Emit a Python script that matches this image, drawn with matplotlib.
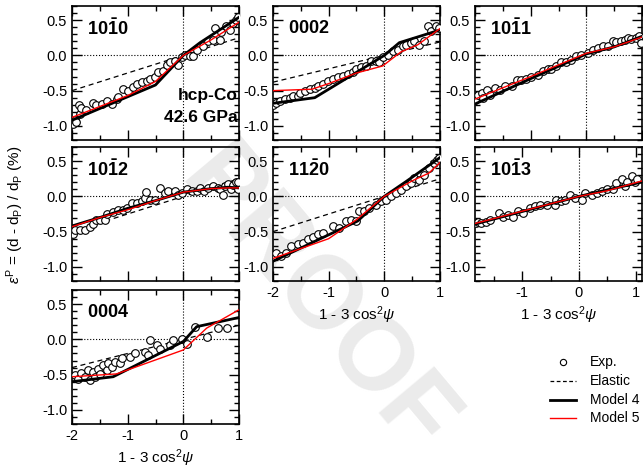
#!/usr/bin/env python3
# -*- coding: utf-8 -*-

import numpy as np
import matplotlib
matplotlib.use('Agg')
import matplotlib.pyplot as plt
from matplotlib.ticker import MultipleLocator, FormatStrFormatter

plt.rcParams['font.family'] = ['Liberation Sans', 'DejaVu Sans']
plt.rcParams['mathtext.fontset'] = 'custom'
plt.rcParams['mathtext.rm'] = 'Liberation Sans'
plt.rcParams['mathtext.it'] = 'Liberation Sans:italic'
plt.rcParams['mathtext.bf'] = 'Liberation Sans:bold'
plt.rcParams['axes.unicode_minus'] = False

# ---- data ----
# 10-10
exp1_x = [-1.98, -1.95, -1.92, -1.87, -1.86, -1.83, -1.74, -1.62, -1.56, -1.47, -1.38, -1.29, -1.2, -1.17,
          -1.08, -0.99, -0.9, -0.84, -0.75, -0.66, -0.6, -0.51, -0.45, -0.36, -0.3, -0.24, -0.15, -0.09,
          -0.03, 0.03, 0.12, 0.18, 0.24, 0.36, 0.45, 0.53, 0.56, 0.65, 0.68, 0.77, 0.83, 0.89, 0.95, 0.98]
exp1_y = [-0.97, -0.92, -0.94, -0.7, -0.83, -0.75, -0.78, -0.67, -0.71, -0.69, -0.64, -0.69, -0.62, -0.59,
          -0.48, -0.5, -0.45, -0.41, -0.38, -0.36, -0.34, -0.31, -0.24, -0.22, -0.13, -0.1, -0.08, -0.13,
          -0.03, 0.01, -0.01, -0.01, 0.08, 0.13, 0.2, 0.22, 0.39, 0.22, 0.33, 0.41, 0.36, 0.46, 0.5, 0.55]
el1 = [-0.5, 0.25]
m4_1x = [-2, -0.5, 0, 0.3, 1]
m4_1y = [-0.92, -0.42, 0.0, 0.18, 0.54]
m5_1x = [-2, -1, -0.5, 0, 0.5, 1]
m5_1y = [-0.88, -0.57, -0.37, 0.0, 0.22, 0.47]

# 0002
exp2_x = [-2, -1.94, -1.88, -1.79, -1.7, -1.64, -1.55, -1.52, -1.43, -1.34, -1.25, -1.19, -1.11, -1.02,
          -0.93, -0.84, -0.75, -0.66, -0.57, -0.51, -0.42, -0.33, -0.24, -0.15, -0.09, -0.03, 0.06, 0.15,
          0.24, 0.33, 0.39, 0.48, 0.54, 0.63, 0.72, 0.78, 0.84, 0.93, 0.98]
exp2_y = [-0.7, -0.68, -0.64, -0.62, -0.61, -0.57, -0.57, -0.53, -0.5, -0.48, -0.46, -0.43, -0.41, -0.36,
          -0.34, -0.31, -0.29, -0.27, -0.24, -0.2, -0.17, -0.15, -0.08, -0.08, -0.09, -0.03, 0.01, 0.06,
          0.08, 0.13, 0.15, 0.18, 0.2, 0.15, 0.2, 0.41, 0.34, 0.41, 0.39]
el2 = [-0.38, 0.19]
m4_2x = [-2, -1.25, 0, 0.27, 1]
m4_2y = [-0.68, -0.6, 0.0, 0.18, 0.36]
m5_2x = [-2, -1.3, -1, -0.5, -0.03, 0.3, 0.6, 1]
m5_2y = [-0.5, -0.48, -0.4, -0.25, -0.15, 0.05, 0.15, 0.38]

# 10-11
exp3_x = [-2, -1.94, -1.88, -1.85, -1.79, -1.73, -1.64, -1.55, -1.46, -1.34, -1.25, -1.17, -1.08, -0.99,
          -0.87, -0.78, -0.69, -0.63, -0.54, -0.45, -0.36, -0.27, -0.18, -0.09, 0.03, 0.12, 0.21, 0.3,
          0.39, 0.48, 0.54, 0.63, 0.69, 0.75, 0.8, 0.89, 0.95, 0.98]
exp3_y = [-0.63, -0.56, -0.53, -0.61, -0.49, -0.56, -0.46, -0.49, -0.43, -0.44, -0.35, -0.35, -0.33, -0.3,
          -0.28, -0.22, -0.19, -0.19, -0.15, -0.1, -0.1, -0.06, -0.01, 0.01, 0.04, 0.08, 0.11, 0.13,
          0.13, 0.2, 0.19, 0.2, 0.22, 0.25, 0.23, 0.25, 0.27, 0.18]
el3 = [-0.6, 0.3]
m4_3x = [-2, -1, 0, 0.5, 1]
m4_3y = [-0.69, -0.33, 0.02, 0.12, 0.27]
m5_3x = [-2, -1, 0, 0.5, 1]
m5_3y = [-0.62, -0.3, 0.03, 0.12, 0.26]

# 10-12
exp4_x = [-1.98, -1.95, -1.86, -1.77, -1.68, -1.62, -1.56, -1.5, -1.41, -1.38, -1.26, -1.17, -1.08, -1.02,
          -0.93, -0.84, -0.75, -0.69, -0.67, -0.6, -0.51, -0.42, -0.33, -0.27, -0.15, -0.09, -0.03, 0.06,
          0.15, 0.24, 0.3, 0.38, 0.44, 0.53, 0.62, 0.65, 0.71, 0.74, 0.8, 0.86, 0.89, 0.95, 0.98, 0.99]
exp4_y = [-0.54, -0.47, -0.48, -0.47, -0.43, -0.39, -0.34, -0.34, -0.34, -0.25, -0.22, -0.2, -0.2, -0.17,
          -0.1, -0.1, -0.07, -0.02, 0.06, -0.05, -0.05, 0.12, 0.05, 0.07, 0.07, 0.02, 0.05, 0.1,
          0.07, 0.07, 0.12, 0.07, 0.12, 0.15, 0.12, 0.1, 0.02, 0.15, 0.17, 0.1, 0.16, 0.2, 0.1, 0.21]
el4 = [-0.5, 0.25]
m4_4x = [-2, -1.5, -1, -0.5, 0, 0.5, 0.8, 1]
m4_4y = [-0.42, -0.3, -0.17, -0.06, 0.06, 0.11, 0.13, 0.12]
m5_4x = [-2, -1.5, -1, -0.5, 0, 0.5, 0.8, 1]
m5_4y = [-0.43, -0.3, -0.19, -0.06, 0.06, 0.11, 0.12, 0.12]

# 11-20
exp5_x = [-2, -1.94, -1.85, -1.76, -1.67, -1.55, -1.46, -1.37, -1.28, -1.2, -1.1, -0.93, -0.81, -0.69,
          -0.6, -0.51, -0.45, -0.36, -0.27, -0.15, -0.06, 0.03, 0.12, 0.21, 0.3, 0.39, 0.48, 0.54,
          0.63, 0.72, 0.8, 0.89, 0.95, 0.98]
exp5_y = [-0.85, -0.8, -0.85, -0.8, -0.71, -0.68, -0.66, -0.61, -0.57, -0.54, -0.52, -0.42, -0.45, -0.35,
          -0.33, -0.35, -0.21, -0.21, -0.16, -0.12, -0.07, -0.05, 0.0, 0.05, 0.09, 0.14, 0.19, 0.26,
          0.23, 0.3, 0.4, 0.47, 0.51, 0.54]
el5 = [-0.5, 0.25]
m4_5x = [-2, -0.48, 0, 0.39, 1]
m4_5y = [-0.92, -0.35, 0.0, 0.21, 0.55]
m5_5x = [-2, -1, -0.5, 0, 0.5, 0.8, 1]
m5_5y = [-0.88, -0.6, -0.33, 0.0, 0.22, 0.33, 0.48]

# 10-13
exp6_x = [-1.82, -1.77, -1.72, -1.64, -1.56, -1.4, -1.34, -1.25, -1.16, -1.07, -0.98, -0.86, -0.77, -0.68,
          -0.56, -0.43, -0.4, -0.31, -0.25, -0.16, -0.07, 0.05, 0.11, 0.23, 0.32, 0.41, 0.5, 0.6,
          0.66, 0.75, 0.81, 0.84, 0.93, 0.99, 1.02]
exp6_y = [-0.38, -0.36, -0.38, -0.36, -0.33, -0.24, -0.29, -0.26, -0.29, -0.21, -0.24, -0.17, -0.14, -0.12,
          -0.12, -0.12, -0.05, -0.07, -0.05, 0.02, -0.02, -0.05, 0.05, 0.02, 0.05, 0.07, 0.1, 0.1,
          0.19, 0.24, 0.14, 0.21, 0.29, 0.21, 0.24]
el6 = [-0.42, 0.21]
m4_6x = [-2, 0, 1.2]
m4_6y = [-0.43, 0.0, 0.22]
m5_6x = [-2, 0, 0.5, 1.2]
m5_6y = [-0.42, 0.0, 0.08, 0.24]

# 0004
exp7_x = [-1.95, -1.89, -1.83, -1.77, -1.71, -1.68, -1.62, -1.59, -1.53, -1.5, -1.44, -1.38, -1.35, -1.29,
          -1.23, -1.14, -1.11, -0.96, -0.87, -0.69, -0.63, -0.6, -0.48, -0.42, -0.24, -0.18, -0.03, 0.06,
          0.21, 0.42, 0.63, 0.78]
exp7_y = [-0.51, -0.56, -0.48, -0.53, -0.44, -0.58, -0.46, -0.53, -0.42, -0.49, -0.37, -0.44, -0.34, -0.39,
          -0.32, -0.34, -0.27, -0.25, -0.2, -0.18, -0.22, -0.01, -0.08, -0.13, -0.08, -0.01, 0.01, -0.06,
          0.18, 0.04, 0.16, 0.16]
el7 = [-0.4, 0.2]
m4_7x = [-2, -1.26, 0, 0.24, 1]
m4_7y = [-0.6, -0.53, -0.03, 0.18, 0.31]
m5_7x = [-2, -1.2, 0, 0.42, 1]
m5_7y = [-0.53, -0.49, -0.15, 0.16, 0.42]

labels = [r'$\mathbf{10\bar{1}0}$', r'$\mathbf{0002}$', r'$\mathbf{10\bar{1}1}$',
          r'$\mathbf{10\bar{1}2}$', r'$\mathbf{11\bar{2}0}$', r'$\mathbf{10\bar{1}3}$',
          r'$\mathbf{0004}$']
legend_labels = ['Exp.', 'Elastic', 'Model 4', 'Model 5']

panels = [
    (exp1_x, exp1_y, el1, m4_1x, m4_1y, m5_1x, m5_1y),
    (exp2_x, exp2_y, el2, m4_2x, m4_2y, m5_2x, m5_2y),
    (exp3_x, exp3_y, el3, m4_3x, m4_3y, m5_3x, m5_3y),
    (exp4_x, exp4_y, el4, m4_4x, m4_4y, m5_4x, m5_4y),
    (exp5_x, exp5_y, el5, m4_5x, m4_5y, m5_5x, m5_5y),
    (exp6_x, exp6_y, el6, m4_6x, m4_6y, m5_6x, m5_6y),
    (exp7_x, exp7_y, el7, m4_7x, m4_7y, m5_7x, m5_7y),
]

W, H = 643, 474
fig = plt.figure(figsize=(W / 100, H / 100), dpi=100)

# watermark behind everything
fig.text(0.49, 0.36, 'PROOF', rotation=-50, fontsize=74, color='#ebebeb',
         weight='bold', ha='center', va='center', zorder=-5)

col_left = [72, 273, 475]
col_w = 167
row_top = [6, 147, 290]
row_h = 134

positions = [(0, 0), (0, 1), (0, 2), (1, 0), (1, 1), (1, 2), (2, 0)]
bottom_axes = [4, 5, 6]

for i, (r, c) in enumerate(positions):
    ex, ey, el, m4x, m4y, m5x, m5y = panels[i]
    ax = fig.add_axes([col_left[c] / W, 1 - (row_top[r] + row_h) / H, col_w / W, row_h / H])
    ax.patch.set_alpha(0)
    # the 10-13 panel has a slightly shifted x range in the original
    if i == 5:
        ax.set_xlim(-1.83, 1.11)
    else:
        ax.set_xlim(-2, 1)
    ax.set_ylim(-1.2, 0.7)
    ax.axhline(0, color='black', ls=':', lw=0.8, zorder=1)
    ax.axvline(0, color='black', ls=':', lw=0.8, zorder=1)
    ax.plot([-2, 1], el, color='black', ls='--', lw=0.9, dashes=(4, 3), zorder=2)
    ax.plot(ex, ey, 'o', mfc='white', mec='black', mew=0.8, ms=5.5, zorder=3)
    ax.plot(m4x, m4y, color='black', lw=2.0, zorder=4)
    ax.plot(m5x, m5y, color='red', lw=1.0, zorder=5)

    ax.xaxis.set_major_locator(MultipleLocator(1))
    ax.xaxis.set_minor_locator(MultipleLocator(0.5))
    ax.yaxis.set_major_locator(MultipleLocator(0.5))
    ax.yaxis.set_minor_locator(MultipleLocator(0.1))
    ax.yaxis.set_major_formatter(FormatStrFormatter('%.1f'))
    ax.tick_params(which='both', direction='in', top=True, right=True, labelsize=10.5)
    ax.tick_params(which='major', length=7, width=1.0)
    ax.tick_params(which='minor', length=3.5, width=1.0)
    for s in ax.spines.values():
        s.set_linewidth(1.2)

    if i in bottom_axes:
        ax.set_xlabel(r'1 - 3 cos$^2\psi$', fontsize=11, labelpad=3)
    else:
        ax.tick_params(labelbottom=False)

    ax.text(0.09, 0.83, labels[i], transform=ax.transAxes, fontsize=13,
            ha='left', va='center')
    if i == 0:
        ax.text(0.99, 0.33, 'hcp-Co', transform=ax.transAxes, fontsize=12.5,
                weight='bold', ha='right', va='center')
        ax.text(0.99, 0.17, '42.6 GPa', transform=ax.transAxes, fontsize=12.5,
                weight='bold', ha='right', va='center')

fig.text(15 / W, 1 - 215 / H,
         r'$\varepsilon^{\rm P}$ = (d - d$_{\rm P}$) / d$_{\rm P}$ (%)',
         rotation=90, fontsize=11, ha='center', va='center')

# legend, drawn by hand in a blank axes covering the lower right corner
lax = fig.add_axes([0, 0, 1, 1])
lax.set_xlim(0, W)
lax.set_ylim(H, 0)
lax.axis('off')
leg_rows = [362, 381, 400, 418]
lax.plot([563], [leg_rows[0]], 'o', mfc='white', mec='black', mew=0.8, ms=4.5)
lax.plot([550, 576], [leg_rows[1]] * 2, color='black', ls='--', lw=0.9, dashes=(3, 2))
lax.plot([550, 576], [leg_rows[2]] * 2, color='black', lw=2.0)
lax.plot([550, 576], [leg_rows[3]] * 2, color='red', lw=1.0)
for yy, lab in zip(leg_rows, legend_labels):
    lax.text(590, yy, lab, fontsize=10, ha='left', va='center')

fig.savefig('out.png', dpi=100)
